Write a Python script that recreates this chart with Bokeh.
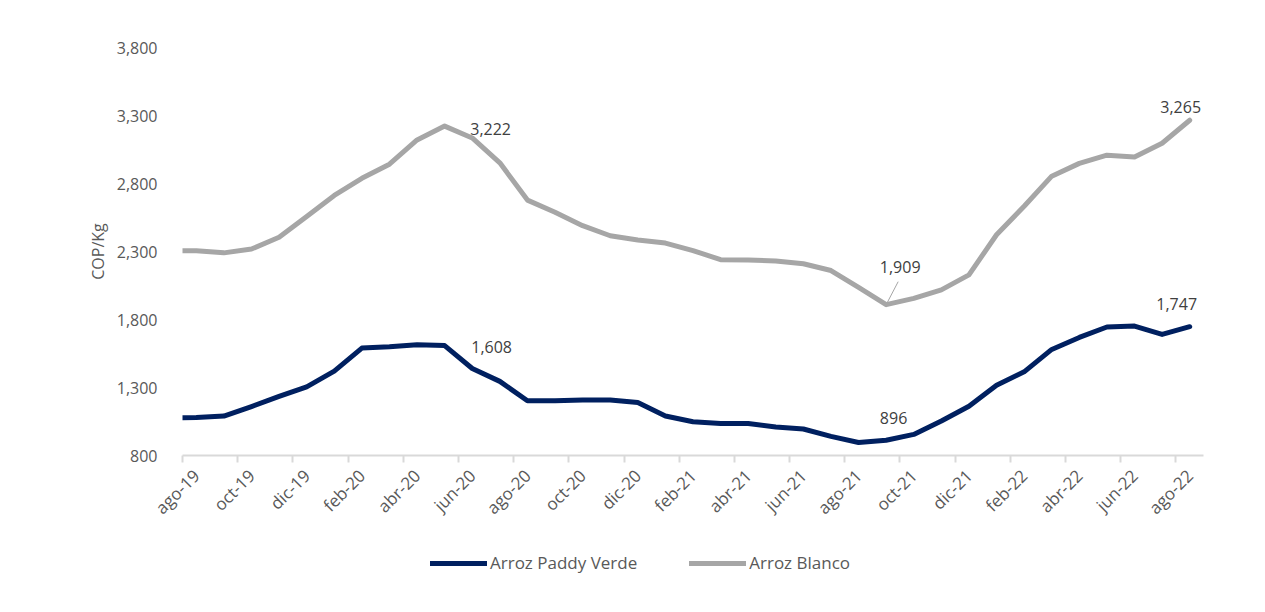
import math
import numpy as np
from bokeh.plotting import figure
from bokeh.layouts import column
from bokeh.models import (LinearAxis, FixedTicker, NumeralTickFormatter, Legend,
                          LegendItem, Range1d, ColumnDataSource)
from bokeh.core.properties import value
from bokeh.embed import file_html
from bokeh.resources import INLINE

# ---------------- data ----------------
months = ["jul-19", "ago-19", "sep-19", "oct-19", "nov-19", "dic-19",
          "ene-20", "feb-20", "mar-20", "abr-20", "may-20", "jun-20",
          "jul-20", "ago-20", "sep-20", "oct-20", "nov-20", "dic-20",
          "ene-21", "feb-21", "mar-21", "abr-21", "may-21", "jun-21",
          "jul-21", "ago-21", "sep-21", "oct-21", "nov-21", "dic-21",
          "ene-22", "feb-22", "mar-22", "abr-22", "may-22", "jun-22",
          "jul-22", "ago-22"]

paddy_verde = [1075, 1079, 1090, 1160, 1235, 1305,
               1420, 1590, 1600, 1615, 1608, 1440,
               1345, 1202, 1202, 1208, 1208, 1190,
               1090, 1048, 1035, 1035, 1010, 995,
               941, 896, 912, 955, 1054, 1162,
               1317, 1415, 1580, 1668, 1745, 1752,
               1690, 1747]

arroz_blanco = [2305, 2305, 2290, 2318, 2405, 2558,
                2712, 2838, 2942, 3120, 3222, 3135,
                2952, 2678, 2588, 2490, 2416, 2385,
                2362, 2307, 2240, 2238, 2230, 2210,
                2160, 2036, 1909, 1955, 2018, 2128,
                2423, 2633, 2854, 2948, 3008, 2995,
                3096, 3265]

y_ticks = [800, 1300, 1800, 2300, 2800, 3300, 3800]

series_names = ["Arroz Paddy Verde", "Arroz Blanco"]

# ---------------- styles ----------------
FONT = "Open Sans"
TXT = "#595959"
LBL = "#404040"
NAVY = "#002060"
GREY = "#A6A6A6"
AXIS = "#D9D9D9"

W = 1265
H_MAIN, H_LEG = 530, 82
ML, MR, MT, MB = 182, 62, 47, 75

x = np.arange(len(months))
x_start, x_end = 0.5, len(months) - 0.5
src = ColumnDataSource(dict(x=x, paddy=paddy_verde, blanco=arroz_blanco))

p = figure(width=W, height=H_MAIN, output_backend="svg", toolbar_location=None,
           x_range=Range1d(x_start, x_end),
           y_range=Range1d(y_ticks[0], y_ticks[-1]),
           x_axis_location=None, y_axis_location=None,
           min_border_left=ML, min_border_right=MR,
           min_border_top=MT, min_border_bottom=MB)
p.grid.grid_line_color = None
p.outline_line_color = None
p.border_fill_color = "white"
p.background_fill_color = "white"

# y axis
yax = LinearAxis(ticker=FixedTicker(ticks=y_ticks),
                 formatter=NumeralTickFormatter(format="0,0"),
                 axis_label="COP/Kg",
                 axis_line_color=None, major_tick_line_color=None,
                 minor_tick_line_color=None,
                 major_label_standoff=19,
                 major_label_text_font=FONT, major_label_text_font_size="16px",
                 major_label_text_color=TXT,
                 axis_label_text_font=FONT, axis_label_text_font_size="16px",
                 axis_label_text_color=TXT, axis_label_text_font_style="normal",
                 axis_label_standoff=5)
p.add_layout(yax, "left")

# x axis: tick marks at category boundaries
bounds = [i - 0.5 for i in range(1, len(months), 2)]
xax_ticks = LinearAxis(ticker=FixedTicker(ticks=bounds),
                       axis_line_color=AXIS, axis_line_width=2,
                       major_tick_line_color=AXIS, major_tick_line_width=2,
                       major_tick_out=7, major_tick_in=0,
                       minor_tick_line_color=None,
                       major_label_text_alpha=0,
                       major_label_text_font_size="4px",
                       major_label_standoff=0)
p.add_layout(xax_ticks, "below")

# x axis: labels at category centers
label_ticks = list(range(1, len(months), 2))
xax_labels = LinearAxis(ticker=FixedTicker(ticks=label_ticks),
                        major_label_overrides={t: months[t] for t in label_ticks},
                        major_label_orientation=math.pi / 4,
                        axis_line_color=None, major_tick_line_color=None,
                        minor_tick_line_color=None,
                        major_label_standoff=4,
                        major_label_text_font=FONT,
                        major_label_text_font_size="17px",
                        major_label_text_color=TXT)
p.add_layout(xax_labels, "below")

p.line("x", "paddy", source=src, line_color=NAVY, line_width=5,
       line_join="round", line_cap="round")
p.line("x", "blanco", source=src, line_color=GREY, line_width=5,
       line_join="round", line_cap="round")

# data labels (offsets in screen px from the point to the label centre; +dy = up)
px_x = (W - ML - MR) / (x_end - x_start)
px_y = (H_MAIN - MT - MB) / (y_ticks[-1] - y_ticks[0])

half = len(months) // 2
i_peak = int(np.argmax(arroz_blanco[:half]))      # 2020 peak
i_min_b = int(np.argmin(arroz_blanco))
i_min_p = int(np.argmin(paddy_verde))
i_last = len(months) - 1

lab_spec = [  # (index, series, dx, dy)
    (i_peak, arroz_blanco, 46, -3),
    (i_peak, paddy_verde, 47, -1),
    (i_min_b, arroz_blanco, 14, 38),
    (i_min_p, paddy_verde, 35, 24),
    (i_last, arroz_blanco, -9, 13),
    (i_last, paddy_verde, -13, 23),
]
lab_src = ColumnDataSource(dict(
    x=[int(x[i]) for i, s, dx, dy in lab_spec],
    y=[s[i] for i, s, dx, dy in lab_spec],
    text=[f"{s[i]:,}" for i, s, dx, dy in lab_spec],
    dx=[dx for i, s, dx, dy in lab_spec],
    dy=[-dy for i, s, dx, dy in lab_spec],
))
p.text(x="x", y="y", text="text", source=lab_src, x_offset="dx", y_offset="dy",
       text_align="center", text_baseline="middle",
       text_font=value(FONT), text_font_size="16px", text_color=LBL)

# leader line for the minimum of Arroz Blanco
p.segment(x0=[x[i_min_b]], y0=[arroz_blanco[i_min_b]],
          x1=[x[i_min_b] + 12 / px_x], y1=[arroz_blanco[i_min_b] + 23 / px_y],
          line_color=GREY, line_width=1)

# ---------------- legend strip ----------------
lp = figure(width=W, height=H_LEG, output_backend="svg", toolbar_location=None,
            x_range=Range1d(0, 1), y_range=Range1d(0, 1),
            x_axis_location=None, y_axis_location=None,
            min_border=0)
lp.grid.grid_line_color = None
lp.outline_line_color = None
lp.border_fill_color = "white"
# series drawn far outside this strip's ranges: only their legend swatches show
l1 = lp.line(x=x, y=paddy_verde, line_color=NAVY, line_width=5, line_cap="round")
l2 = lp.line(x=x, y=arroz_blanco, line_color=GREY, line_width=5, line_cap="round")
legend = Legend(items=[LegendItem(label=series_names[0], renderers=[l1]),
                       LegendItem(label=series_names[1], renderers=[l2])],
                orientation="horizontal", location=(248, 38),
                glyph_width=57, glyph_height=20, label_standoff=3, spacing=52,
                padding=0, margin=0,
                label_text_font=FONT, label_text_font_size="17px",
                label_text_color=TXT,
                border_line_color=None, background_fill_alpha=0)
lp.add_layout(legend, "center")

layout = column(p, lp, spacing=0)
open("out.html", "w").write(file_html(layout, INLINE))
